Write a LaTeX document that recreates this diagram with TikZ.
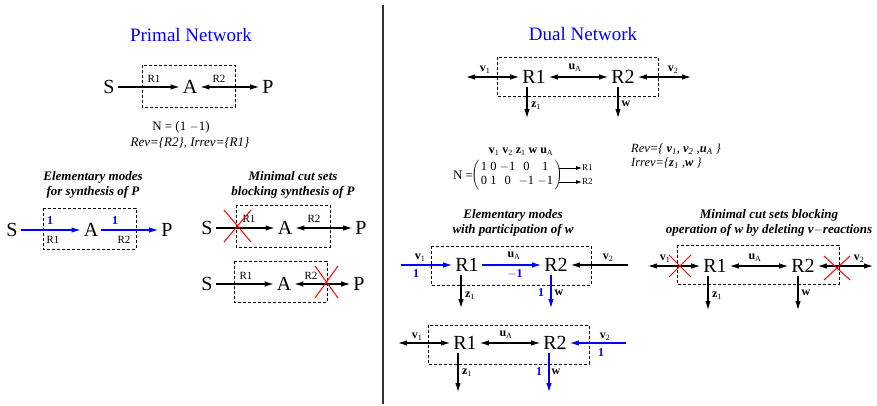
\documentclass[tikz,border=0pt]{standalone}
\usepackage{fontspec}
\setmainfont{Liberation Serif}
\usetikzlibrary{arrows.meta}
\newcommand\bsub[2]{\textbf{#1}\textsubscript{#2}}
\tikzset{
  big/.style={font=\fontsize{20}{20}\selectfont, inner sep=3pt},
  lab/.style={font=\fontsize{11}{11}\selectfont, inner sep=0pt},
  vlab/.style={font=\fontsize{12}{12}\selectfont, inner sep=0pt},
  num/.style={font=\bfseries\fontsize{12}{12}\selectfont, inner sep=0pt, text=blue},
  ttl/.style={font=\bfseries\itshape\fontsize{13}{15}\selectfont, align=center, inner sep=0pt},
  head/.style={font=\fontsize{19}{19}\selectfont, text=blue, inner sep=0pt},
  arr/.style={-{Latex[length=9pt,width=5.5pt]}, line width=1.1pt},
  darr/.style={{Latex[length=9pt,width=5.5pt]}-{Latex[length=9pt,width=5.5pt]}, line width=1.1pt},
  bluearr/.style={arr, blue},
  dbox/.style={draw, line width=0.7pt, dash pattern=on 3pt off 2pt},
  cross/.style={red, line width=1pt}
}
\begin{document}
\begin{tikzpicture}[x=1pt,y=-1pt]
\useasboundingbox (0,0) rectangle (877,406);
\draw[line width=1.6pt, black!80] (383,5) -- (383,404);

% ---------------- Primal network
\node[head] (ph) at (191,35) {Primal Network};
\draw[dbox] (142,65) rectangle (235,107);
\node[big] (S) at (109,87) {S};
\node[big] (A) at (190,87) {A};
\node[big] (P) at (268,87) {P};
\draw[arr] (S) -- (A);
\draw[darr] (A) -- (P);
\node[lab] (r1) at (154,79) {R1};
\node[lab] (r2) at (219,79) {R2};
\node[font=\fontsize{13}{13}\selectfont, inner sep=0pt] (pn) at (181,127) {N = (1 $-$1)};
\node[font=\itshape\fontsize{13}{13}\selectfont, inner sep=0pt] (prev) at (190,143) {Rev=\{R2\}, Irrev=\{R1\}};

% Elementary modes primal
\node[ttl] (t1) at (93,185) {Elementary modes\\for synthesis of P};
\draw[dbox] (43,208) rectangle (136,249);
\node[big] (S2) at (12,230) {S};
\node[big] (A2) at (91,230) {A};
\node[big] (P2) at (167,230) {P};
\draw[bluearr] (S2) -- (A2);
\draw[bluearr] (A2) -- (P2);
\node[num] (n1) at (50,221) {1};
\node[num] (n2) at (115,221) {1};
\node[lab] (r1b) at (53,240) {R1};
\node[lab] (r2b) at (124,240) {R2};

% Minimal cut sets primal
\node[ttl] (t2) at (293,185) {Minimal cut sets\\blocking synthesis of P};
\draw[dbox] (236,205) rectangle (330,247);
\node[big] (S3) at (207,228) {S};
\node[big] (A3) at (285,228) {A};
\node[big] (P3) at (361,228) {P};
\draw[arr] (S3) -- (A3);
\draw[darr] (A3) -- (P3);
\node[lab] (r1c) at (249,219) {R1};
\node[lab] (r2c) at (314,219) {R2};
\draw[cross] (224,210) -- (251,242) (251,210) -- (224,242);

\draw[dbox] (234,261) rectangle (327,302);
\node[big] (S4) at (207,284) {S};
\node[big] (A4) at (284,284) {A};
\node[big] (P4) at (359,284) {P};
\draw[arr] (S4) -- (A4);
\draw[darr] (A4) -- (P4);
\node[lab] (r1d) at (246,276) {R1};
\node[lab] (r2d) at (311,276) {R2};
\draw[cross] (315,266) -- (338,298) (338,266) -- (315,298);

% ---------------- Dual network
\node[head] (dh) at (583,34) {Dual Network};
\draw[dbox] (497,57) rectangle (658,96);
\node[big] (R1) at (534,77) {R1};
\node[big] (R2) at (623,77) {R2};
\coordinate (v1e) at (466,77);
\coordinate (v2e) at (691,77);
\coordinate (z1e) at (527,118);
\coordinate (we) at (618,118);
\draw[darr] (v1e) -- (R1);
\draw[darr] (R1) -- (R2);
\draw[darr] (R2) -- (v2e);
\draw[arr] (z1e |- R1.south) -- (z1e);
\draw[arr] (we |- R2.south) -- (we);
\node[vlab] at (485,70) {\bsub{v}{1}};
\node[vlab] at (575,68) {\bsub{u}{A}};
\node[vlab] at (673,70) {\bsub{v}{2}};
\node[vlab] at (536,106) {\bsub{z}{1}};
\node[vlab] at (626,104) {\textbf{w}};

% Matrix
\node[font=\fontsize{13}{13}\selectfont, inner sep=0pt] (Neq) at (463,175) {N =};
\node[font=\fontsize{12.5}{14}\selectfont, inner sep=0pt] (mat) at (517,175)
  {$\left(\vcenter{\hbox{\setlength{\tabcolsep}{1.6pt}\renewcommand{\arraystretch}{1}\begin{tabular}{ccccc}1&0&$-$1&0&1\\0&1&0&$-$1&$-$1\end{tabular}}}\right)$};
\node[font=\fontsize{12}{12}\selectfont, inner sep=0pt] (colh) at (521,152)
  {\bsub{v}{1} \bsub{v}{2} \bsub{z}{1} \textbf{w} \bsub{u}{A}};
\node[font=\fontsize{9}{9}\selectfont, inner sep=0pt, anchor=west] (mR1) at (582,168) {R1};
\node[font=\fontsize{9}{9}\selectfont, inner sep=0pt, anchor=west] (mR2) at (582,182) {R2};
\coordinate (m1s) at (559,168);
\coordinate (m2s) at (559,182);
\draw[-{Latex[length=6pt,width=4pt]}, line width=0.8pt] (m1s) -- (mR1.west);
\draw[-{Latex[length=6pt,width=4pt]}, line width=0.8pt] (m2s) -- (mR2.west);
\node[font=\itshape\fontsize{12.5}{12.5}\selectfont, inner sep=0pt, anchor=west] (rev) at (631,149)
  {Rev=\{ \bsub{v}{1}, \bsub{v}{2} ,\bsub{u}{A} \}};
\node[font=\itshape\fontsize{12.5}{12.5}\selectfont, inner sep=0pt, anchor=west] (irrev) at (631,163)
  {Irrev=\{\bsub{z}{1} ,\textbf{w} \}};

% Elementary modes dual
\node[ttl] (t3) at (513,223) {Elementary modes\\with participation of w};
\draw[dbox] (431,246) rectangle (591,285);
\node[big] (R1a) at (467,265) {R1};
\node[big] (R2a) at (556,265) {R2};
\coordinate (v1a) at (401,265);
\coordinate (v2a) at (628,265);
\coordinate (z1a) at (461,308);
\coordinate (wa) at (551,308);
\draw[bluearr] (v1a) -- (R1a);
\draw[bluearr] (R1a) -- (R2a);
\draw[arr] (v2a) -- (R2a);
\draw[arr] (z1a |- R1a.south) -- (z1a);
\draw[bluearr] (wa |- R2a.south) -- (wa);
\node[vlab] at (420,258) {\bsub{v}{1}};
\node[num] at (416,274) {1};
\node[vlab] at (514,256) {\bsub{u}{A}};
\node[num] at (515,274) {$-$1};
\node[vlab] at (608,258) {\bsub{v}{2}};
\node[vlab] at (470,296) {\bsub{z}{1}};
\node[num] at (541,293) {1};
\node[vlab] at (559,293) {\textbf{w}};

\draw[dbox] (428,325) rectangle (589,364);
\node[big] (R1b) at (465,343) {R1};
\node[big] (R2b) at (555,343) {R2};
\coordinate (v1b) at (398,343);
\coordinate (v2b) at (626,343);
\coordinate (z1b) at (458,392);
\coordinate (wb) at (549,392);
\draw[darr] (v1b) -- (R1b);
\draw[darr] (R1b) -- (R2b);
\draw[bluearr] (v2b) -- (R2b);
\draw[arr] (z1b |- R1b.south) -- (z1b);
\draw[bluearr] (wb |- R2b.south) -- (wb);
\node[vlab] at (417,337) {\bsub{v}{1}};
\node[vlab] at (506,335) {\bsub{u}{A}};
\node[vlab] at (605,337) {\bsub{v}{2}};
\node[num] at (601,353) {1};
\node[vlab] at (467,373) {\bsub{z}{1}};
\node[num] at (539,372) {1};
\node[vlab] at (556,372) {\textbf{w}};

% Minimal cut sets dual
\node[ttl] (t4) at (769,223) {Minimal cut sets blocking\\operation of w by deleting v$-$reactions};
\draw[dbox] (677,245) rectangle (839,284);
\node[big] (R1c) at (715,266) {R1};
\node[big] (R2c) at (803,266) {R2};
\coordinate (v1c) at (648,266);
\coordinate (v2c) at (873,266);
\coordinate (z1c) at (708,310);
\coordinate (wc) at (798,310);
\draw[darr] (v1c) -- (R1c);
\draw[darr] (R1c) -- (R2c);
\draw[darr] (R2c) -- (v2c);
\draw[arr] (z1c |- R1c.south) -- (z1c);
\draw[arr] (wc |- R2c.south) -- (wc);
\node[vlab] at (665,259) {\bsub{v}{1}};
\node[vlab] at (755,258) {\bsub{u}{A}};
\node[vlab] at (859,259) {\bsub{v}{2}};
\node[vlab] at (717,296) {\bsub{z}{1}};
\node[vlab] at (806,293) {\textbf{w}};
\draw[cross] (669,255) -- (691,277) (691,255) -- (669,277);
\draw[cross] (824,256) -- (850,280) (850,256) -- (824,280);
\end{tikzpicture}
\end{document}
